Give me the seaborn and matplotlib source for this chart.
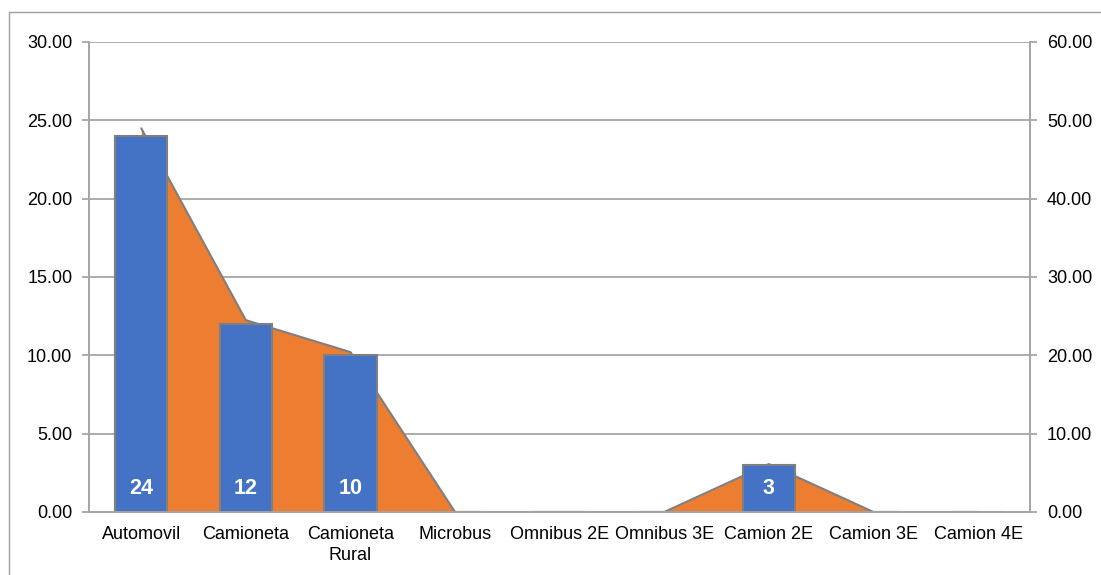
import numpy as np
import pandas as pd
import matplotlib
matplotlib.use("Agg")
import matplotlib.pyplot as plt
from matplotlib.lines import Line2D
import seaborn as sns

categories = ["Automovil", "Camioneta", "Camioneta\nRural", "Microbus", "Omnibus 2E",
              "Omnibus 3E", "Camion 2E", "Camion 3E", "Camion 4E"]
counts = [24, 12, 10, 0, 0, 0, 3, 0, 0]
percent = [48.98, 24.49, 20.41, 0.0, 0.0, 0.0, 6.12, 0.0, 0.0]
bar_labels = ["24", "12", "10", "", "", "", "3", "", ""]

left_ticks = [0, 5, 10, 15, 20, 25, 30]
right_ticks = [0, 10, 20, 30, 40, 50, 60]

sns.set_theme(style="white")
plt.rcParams["font.family"] = ["Liberation Sans", "DejaVu Sans"]

BLUE = "#4472C4"
ORANGE = "#ED7D31"
EDGE = "#7F7F7F"
GRID = "#A6A6A6"
FS = 13

fig = plt.figure(figsize=(11.01, 5.75), dpi=100)
ax = fig.add_axes([0.0808, 0.1096, 0.855, 0.8174])
ax2 = ax.twinx()

# area series (right axis) sits underneath, bars (left axis) on top
ax2.set_zorder(0)
ax.set_zorder(1)
ax.patch.set_visible(False)

df = pd.DataFrame({"cat": categories, "count": counts, "pct": percent})
x = np.arange(len(categories))

ax2.fill_between(x, df["pct"], 0, color=ORANGE, linewidth=0, zorder=2)
sns.lineplot(x=x, y=df["pct"], ax=ax2, color=EDGE, linewidth=1.5, zorder=3)
ax2.set_ylim(0, 60)
ax2.set_yticks(right_ticks)
ax2.set_yticklabels([f"{v:.2f}" for v in right_ticks])
ax2.yaxis.grid(True, color=GRID, linewidth=1.3)
ax2.set_axisbelow(True)

sns.barplot(data=df, x="cat", y="count", ax=ax, color=BLUE, width=0.5,
            edgecolor=EDGE, linewidth=1.5, saturation=1)
ax.set_ylim(0, 30)
ax.set_xlim(-0.5, len(categories) - 0.5)
ax.set_yticks(left_ticks)
ax.set_yticklabels([f"{v:.2f}" for v in left_ticks])
ax.set_xlabel("")
ax.set_ylabel("")
ax2.set_ylabel("")

for i, lab in enumerate(bar_labels):
    if lab:
        ax.annotate(lab, xy=(i, 0), xytext=(0, 17), textcoords="offset points",
                    ha="center", va="center", color="white", fontweight="bold",
                    fontsize=15.5)

# category boundary ticks on the x axis
ax.set_xticks(x)
ax.set_xticklabels(categories, fontsize=FS, color="#000000", linespacing=1.3)
ax.set_xticks(np.arange(-0.5, len(categories), 1.0), minor=True)
ax.tick_params(axis="x", which="major", length=0, pad=10)
ax.tick_params(axis="x", which="minor", length=5, width=1.3, color=GRID, direction="out")
ax.tick_params(axis="y", which="major", left=True, length=5, width=1.3, color=GRID,
               labelsize=FS, labelcolor="#000000", pad=7)
ax2.tick_params(axis="y", which="major", right=True, length=5, width=1.3, color=GRID,
                labelsize=FS, labelcolor="#000000", pad=7)

for a in (ax, ax2):
    a.spines["top"].set_visible(False)
    for s in ("left", "right", "bottom"):
        a.spines[s].set_color(GRID)
        a.spines[s].set_linewidth(1.3)

# chart frame edges
fig.add_artist(Line2D([9 / 1101, 9 / 1101], [0, 1 - 12 / 575], transform=fig.transFigure,
                      color="#A0A0A0", linewidth=1.0))
fig.add_artist(Line2D([9 / 1101, 1], [1 - 12 / 575, 1 - 12 / 575], transform=fig.transFigure,
                      color="#A0A0A0", linewidth=1.0))

fig.savefig("out.png", dpi=100)
